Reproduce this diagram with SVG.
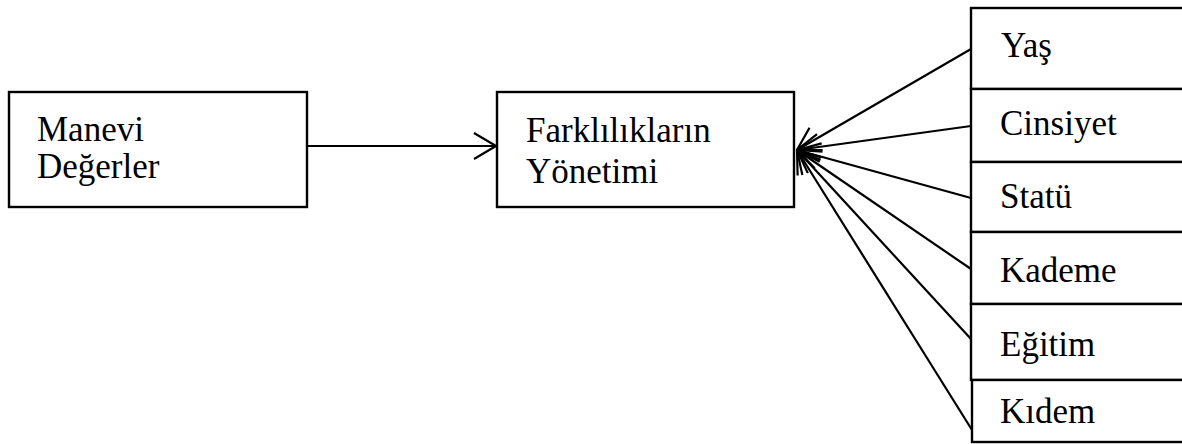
<svg xmlns="http://www.w3.org/2000/svg" width="1182" height="444" viewBox="0 0 1182 444">
  <style>
    .box { fill: #fff; stroke: #000; stroke-width: 2.4; }
    .lbl { font-family: "Liberation Serif", "DejaVu Serif", serif; font-size: 35px; fill: #000; }
    .edge { stroke: #000; stroke-width: 2.2; fill: none; marker-end: url(#open); }
  </style>
  <defs>
    <marker id="open" viewBox="0 0 24 28" refX="23" refY="14" markerWidth="24" markerHeight="28" markerUnits="userSpaceOnUse" orient="auto">
      <path d="M1,1 L23,14 L1,27" fill="none" stroke="#000" stroke-width="2.2"/>
    </marker>
  </defs>

  <!-- arrows: values feed into the central box -->
  <g id="connectors">
    <line class="edge" x1="307" y1="146" x2="496" y2="146"/>
    <line class="edge" x1="971" y1="49" x2="797" y2="150"/>
    <line class="edge" x1="971" y1="126" x2="797" y2="150"/>
    <line class="edge" x1="971" y1="198" x2="797" y2="150"/>
    <line class="edge" x1="971" y1="269" x2="797" y2="150"/>
    <line class="edge" x1="971" y1="339" x2="797" y2="150"/>
    <line class="edge" x1="972" y1="430" x2="797" y2="150"/>
  </g>

  <g id="manevi-degerler">
    <rect class="box" x="9" y="92" width="298" height="115"/>
    <text class="lbl" x="37" y="141">Manevi</text>
    <text class="lbl" x="37" y="178">Değerler</text>
  </g>

  <g id="farkliliklarin-yonetimi">
    <rect class="box" x="497" y="92" width="297" height="115"/>
    <text class="lbl" x="526" y="142">Farklılıkların</text>
    <text class="lbl" x="526" y="183">Yönetimi</text>
  </g>

  <!-- demographic factors, stacked along the right edge -->
  <g id="yas">
    <rect class="box" x="971" y="8" width="230" height="81"/>
    <text class="lbl" x="1001" y="57">Yaş</text>
  </g>
  <g id="cinsiyet">
    <rect class="box" x="971" y="89" width="230" height="73"/>
    <text class="lbl" x="1000" y="135">Cinsiyet</text>
  </g>
  <g id="statu">
    <rect class="box" x="971" y="162" width="230" height="70"/>
    <text class="lbl" x="1000" y="208">Statü</text>
  </g>
  <g id="kademe">
    <rect class="box" x="971" y="232" width="230" height="72"/>
    <text class="lbl" x="1000" y="282">Kademe</text>
  </g>
  <g id="egitim">
    <rect class="box" x="971" y="304" width="230" height="76"/>
    <text class="lbl" x="1000" y="356">Eğitim</text>
  </g>
  <g id="kidem">
    <rect class="box" x="972" y="380" width="230" height="62"/>
    <text class="lbl" x="1000" y="423">Kıdem</text>
  </g>
</svg>
